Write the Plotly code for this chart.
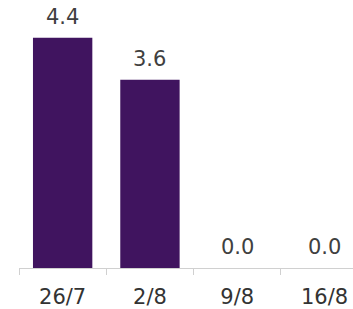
import plotly.graph_objects as go

categories = ["26/7", "2/8", "9/8", "16/8"]
values = [4.4, 3.6, 0.0, 0.0]
labels = ["4.4", "3.6", "0.0", "0.0"]

fig = go.Figure(go.Bar(
    x=categories, y=values,
    marker=dict(color="#40145f", line=dict(width=0)),
    cliponaxis=False,
))
for c, v, t in zip(categories, values, labels):
    fig.add_annotation(x=c, y=v, text=t, showarrow=False, yanchor="middle",
                       yshift=21, font=dict(family="DejaVu Sans", size=21, color="#404040"))
fig.update_layout(
    width=353, height=309,
    margin=dict(l=19, r=0, t=8, b=39),
    paper_bgcolor="white", plot_bgcolor="white",
    bargap=0.32, showlegend=False,
    xaxis=dict(type="category", range=[-0.5, 3.326], tickson="boundaries",
               ticks="outside", ticklen=6, tickcolor="#d0d0d0",
               showline=True, linecolor="#d0d0d0", linewidth=1,
               showgrid=False, ticklabelstandoff=10,
               tickfont=dict(family="DejaVu Sans", size=21, color="#333333")),
    yaxis=dict(range=[0, 4.97], visible=False, showgrid=False, zeroline=False),
)
fig.write_html("out.html", config={"displayModeBar": False},
               post_script="document.body.style.margin='0';document.body.style.overflow='hidden';")
